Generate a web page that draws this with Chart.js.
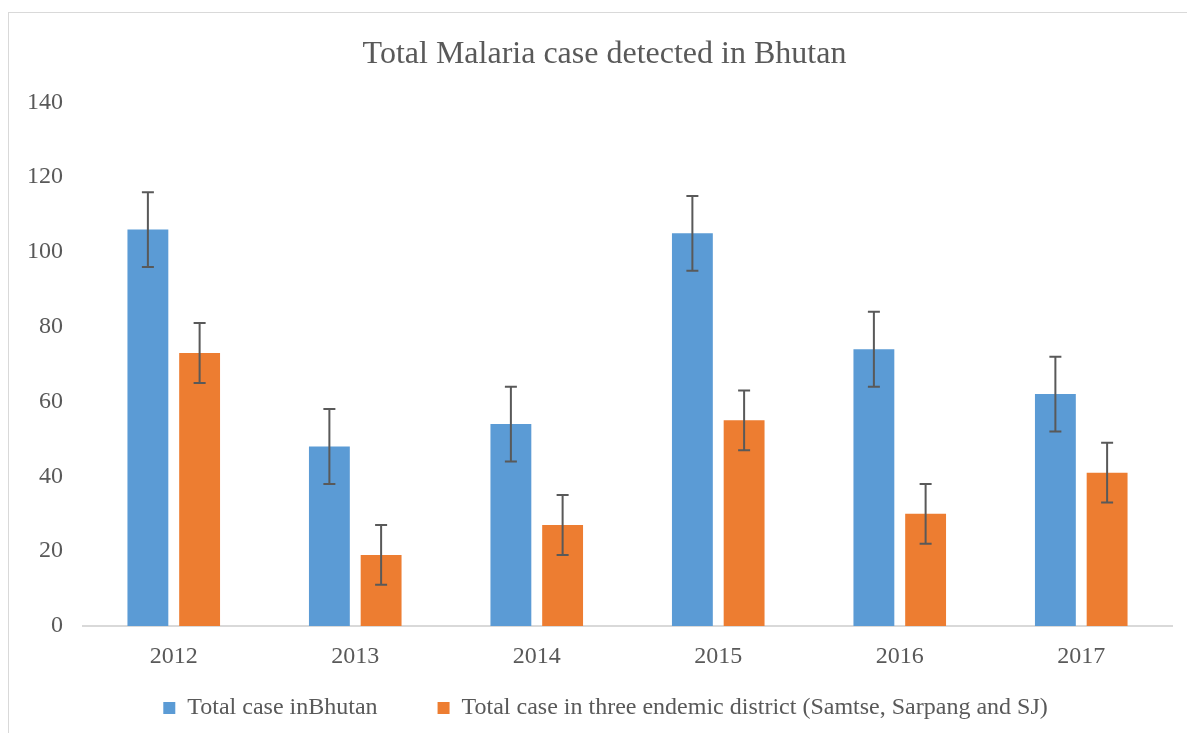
<!DOCTYPE html>
<html lang="en">
<head>
    <meta charset="UTF-8">
    <title>Total Malaria case detected in Bhutan</title>
    <style>
        html, body {
            margin: 0;
            padding: 0;
            background-color: #ffffff;
            overflow: hidden;
        }
        .frame {
            position: absolute;
            left: 8px;
            top: 12px;
            width: 1200px;
            height: 760px;
            border: 1px solid #d9d9d9;
            box-sizing: border-box;
        }
        .chart-box {
            position: absolute;
            left: 0;
            top: 0;
            width: 1187px;
            height: 733px;
        }
    </style>
</head>
<body>
    <div class="frame"></div>
    <div class="chart-box">
        <canvas id="malariaChart" width="1187" height="733"></canvas>
    </div>

    <script src="https://cdn.jsdelivr.net/npm/chart.js"></script>
    <script>
        // Data
        const years = ['2012', '2013', '2014', '2015', '2016', '2017'];
        const totalBhutan = [106, 48, 54, 105, 74, 62];
        const totalEndemic = [73, 19, 27, 55, 30, 41];
        const errBhutan = [10, 10, 10, 10, 10, 10];
        const errEndemic = [8, 8, 8, 8, 8, 8];
        const yTicks = [0, 20, 40, 60, 80, 100, 120, 140];

        const serif = "'Liberation Serif', 'Times New Roman', serif";
        const grey = '#595959';

        // Draws the error bars on top of each bar
        const errorBars = {
            id: 'errorBars',
            afterDatasetsDraw(chart) {
                const ctx = chart.ctx;
                const yScale = chart.scales.y;
                ctx.save();
                ctx.strokeStyle = '#595959';
                ctx.lineWidth = 2;
                chart.data.datasets.forEach((ds, i) => {
                    const meta = chart.getDatasetMeta(i);
                    meta.data.forEach((bar, j) => {
                        const v = ds.data[j];
                        const e = ds.errors[j];
                        const top = yScale.getPixelForValue(v + e);
                        const bottom = yScale.getPixelForValue(v - e);
                        ctx.beginPath();
                        ctx.moveTo(bar.x, top);
                        ctx.lineTo(bar.x, bottom);
                        ctx.moveTo(bar.x - 6, top);
                        ctx.lineTo(bar.x + 6, top);
                        ctx.moveTo(bar.x - 6, bottom);
                        ctx.lineTo(bar.x + 6, bottom);
                        ctx.stroke();
                    });
                });
                ctx.restore();
            }
        };

        // Pulls the legend up under the year labels and centres title/legend like the original
        const nudge = {
            id: 'nudge',
            afterLayout(chart) {
                const lg = chart.legend;
                const dy = lg.top - 636;
                lg.top -= dy;
                lg.bottom -= dy;
                lg.left += 7;
                lg.right += 7;
                const t = chart.titleBlock;
                if (t) {
                    t.left += 6;
                    t.right += 6;
                }
            }
        };

        const ctx = document.getElementById('malariaChart').getContext('2d');
        new Chart(ctx, {
            type: 'bar',
            data: {
                labels: years,
                datasets: [{
                    label: 'Total case inBhutan',
                    data: totalBhutan,
                    errors: errBhutan,
                    backgroundColor: '#5b9bd5'
                }, {
                    label: 'Total case in three endemic district (Samtse, Sarpang and SJ)',
                    data: totalEndemic,
                    errors: errEndemic,
                    backgroundColor: '#ed7d31'
                }]
            },
            options: {
                responsive: false,
                animation: false,
                categoryPercentage: 0.57,
                barPercentage: 0.79,
                layout: {
                    padding: { left: 25, right: 15, top: 35, bottom: -33 }
                },
                scales: {
                    x: {
                        afterFit: axis => { axis.height = 46; },
                        grid: { display: false, drawTicks: false },
                        border: { color: '#d9d9d9', width: 2 },
                        ticks: {
                            color: grey,
                            font: { family: serif, size: 24 },
                            padding: 16
                        }
                    },
                    y: {
                        min: 0,
                        max: 140,
                        afterBuildTicks: axis => {
                            axis.ticks = yTicks.map(v => ({ value: v }));
                        },
                        afterFit: axis => { axis.width = 58; },
                        grid: { display: false, drawTicks: false },
                        border: { display: false },
                        ticks: {
                            color: grey,
                            font: { family: serif, size: 24 },
                            padding: 20
                        }
                    }
                },
                plugins: {
                    title: {
                        display: true,
                        text: 'Total Malaria case detected in Bhutan',
                        color: grey,
                        font: { family: serif, size: 32, weight: 'normal' },
                        padding: { top: 0, bottom: 29 }
                    },
                    legend: {
                        position: 'bottom',
                        labels: {
                            color: grey,
                            font: { family: serif, size: 24 },
                            boxWidth: 12,
                            boxHeight: 12,
                            padding: 60
                        }
                    },
                    tooltip: { enabled: false }
                }
            },
            plugins: [errorBars, nudge]
        });
    </script>
</body>
</html>
